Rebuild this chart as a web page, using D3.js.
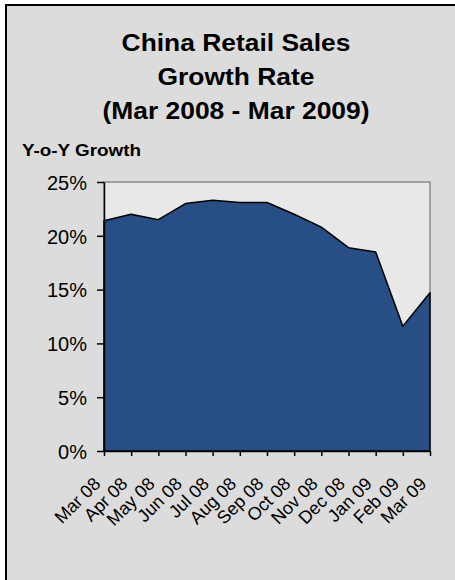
<!DOCTYPE html>
<html>
<head>
<meta charset="utf-8">
<script src="https://cdn.jsdelivr.net/npm/d3@7"></script>
<style>
	html, body { margin: 0; background: #fff; overflow: hidden; }
	svg { display: block; position: absolute; left: 0; top: 0; }
	text { font-family: "Liberation Sans", Arial, sans-serif; fill: #000; }
</style>
</head>
<body>
<div id="root"></div>
<script>
const MONTHS = ["Mar 08","Apr 08","May 08","Jun 08","Jul 08","Aug 08","Sep 08",
	"Oct 08","Nov 08","Dec 08","Jan 09","Feb 09","Mar 09"]
const GROWTH = [21.4, 22.0, 21.5, 23.0, 23.3, 23.1, 23.1, 22.0, 20.8, 18.9, 18.5, 11.6, 14.7]
const Y_TICKS = [0, 5, 10, 15, 20, 25]
const TITLE_LINES = ["China Retail Sales", "Growth Rate", "(Mar 2008 - Mar 2009)"]

const width = 455,
	height = 580

const plot = { left: 104, right: 430, top: 182, bottom: 451 }

const svg = d3.select('#root')
	.append('svg')
	.attr('width', width)
	.attr('height', height)

// chart frame, runs off the right and bottom edge so only top/left borders show
svg.append('rect')
	.attr('x', 6)
	.attr('y', 5)
	.attr('width', width)
	.attr('height', height)
	.attr('fill', '#dcdcdc')

svg.append('path')
	.attr('d', `M6,${height} V5 H${width}`)
	.attr('fill', 'none')
	.attr('stroke', '#000')
	.attr('stroke-width', 2)

// the original text is a bit wider than plain Arial, hence the scale(1.1,1)
svg.selectAll('.title')
	.data(TITLE_LINES)
	.enter()
	.append('text')
	.attr('class', 'title')
	.attr('transform', (d, i) => `translate(236,${51 + i * 34}) scale(1.1,1)`)
	.attr('text-anchor', 'middle')
	.style('font-size', '24px')
	.style('font-weight', 'bold')
	.text(d => d)

svg.append('text')
	.attr('transform', 'translate(22,156) scale(1.11,1)')
	.style('font-size', '17px')
	.style('font-weight', 'bold')
	.text('Y-o-Y Growth')

const x = d3.scalePoint()
	.domain(MONTHS)
	.range([plot.left, plot.right])

const y = d3.scaleLinear()
	.domain([0, 25])
	.range([plot.bottom, plot.top])

// plot area background + gray border
svg.append('rect')
	.attr('x', plot.left)
	.attr('y', plot.top)
	.attr('width', plot.right - plot.left)
	.attr('height', plot.bottom - plot.top)
	.attr('fill', '#e8e8e8')
	.attr('stroke', '#8c8c8c')
	.attr('stroke-width', 1.5)

const area = d3.area()
	.x((d, i) => x(MONTHS[i]))
	.y0(y(0))
	.y1(d => y(d))

svg.append('path')
	.datum(GROWTH)
	.attr('d', area)
	.attr('fill', '#274f85')
	.attr('stroke', '#000')
	.attr('stroke-width', 1.5)
	.attr('stroke-linejoin', 'round')

const yAxis = svg.append('g')
	.attr('transform', `translate(${plot.left},0)`)
	.call(d3.axisLeft(y)
		.tickValues(Y_TICKS)
		.tickFormat(d => d + '%')
		.tickSize(7)
		.tickSizeOuter(0)
		.tickPadding(10))

yAxis.selectAll('text')
	.style('font-size', '20px')
	.attr('dy', '0.36em')
	.style('font-family', '"Liberation Sans", Arial, sans-serif')

const xAxis = svg.append('g')
	.attr('transform', `translate(0,${plot.bottom})`)
	.call(d3.axisBottom(x)
		.tickSize(5)
		.tickSizeOuter(0))

xAxis.selectAll('text')
	.style('font-size', '18px')
	.style('font-family', '"Liberation Sans", Arial, sans-serif')
	.attr('text-anchor', 'end')
	.attr('dy', 0)
	.attr('y', 0)
	.attr('transform', 'translate(-3,34) rotate(-45)')

svg.selectAll('.domain, .tick line')
	.attr('stroke', '#000')
	.attr('stroke-width', 1.5)
</script>
</body>
</html>
